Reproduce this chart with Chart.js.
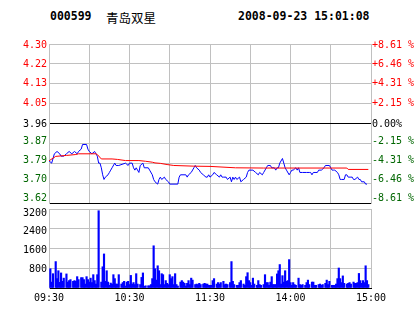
<!DOCTYPE html>
<html>
<head>
<meta charset="utf-8">
<script src="https://cdn.jsdelivr.net/npm/chart.js@4.4.1/dist/chart.umd.min.js"></script>
<style>
  html, body { margin: 0; padding: 0; background: #fff; }
  body { width: 414px; height: 314px; position: relative; overflow: hidden; }
  .hdr { position: absolute; top: 9px; font: bold 11.5px "DejaVu Sans Mono", monospace; color: #000; line-height: 14px; white-space: pre; }
  #stockName { font: 12.5px "Noto Sans CJK SC", sans-serif; top: 8px; }
  #priceWrap { position: absolute; left: 0; top: 0; width: 414px; height: 212px; }
  #volWrap { position: absolute; left: 0; top: 200px; width: 414px; height: 114px; }
</style>
</head>
<body>
<div class="hdr" id="stockCode" style="left:50px"></div>
<div class="hdr" id="stockName" style="left:106px"></div>
<div class="hdr" id="stamp" style="left:238px"></div>
<div id="priceWrap"><canvas id="priceChart" width="414" height="212"></canvas></div>
<div id="volWrap"><canvas id="volChart" width="414" height="114"></canvas></div>
<script>
const stockCode = "000599";
const stockName = "青岛双星";
const stampText = "2008-09-23 15:01:08";

const prevClose = 3.96;
const limitPct = 8.61;
const priceTickLabels = ["3.62", "3.70", "3.79", "3.87", "3.96", "4.05", "4.13", "4.22", "4.30"];
const pctTickLabels = ["-8.61 %", "-6.46 %", "-4.31 %", "-2.15 %", "0.00%", "+2.15 %", "+4.31 %", "+6.46 %", "+8.61 %"];
const volTickLabels = ["", "800", "1600", "2400", "3200"];
const timeTickMinutes = [0, 60, 120, 180, 240];
const timeTickText = ["09:30", "10:30", "11:30", "14:00", "15:00"];

// minutes of trading since 09:30 (lunch break removed)
const priceMinutes = [
  0, 2, 4, 6, 8, 9, 11, 13, 15, 17,
  19, 21, 22, 24, 25, 28, 29, 30, 32, 34,
  35, 36, 37, 38, 39, 40, 41, 42, 44, 45,
  46, 47, 49, 50, 52, 57, 59, 60, 62, 63,
  64, 65, 67, 68, 70, 71, 74, 75, 77, 78,
  79, 81, 82, 83, 84, 86, 87, 89, 90, 96,
  97, 98, 102, 103, 104, 106, 108, 109, 110, 112,
  113, 115, 117, 118, 119, 120, 122, 123, 125, 127,
  128, 129, 130, 132, 133, 135, 136, 137, 138, 139,
  140, 142, 143, 145, 147, 148, 149, 152, 154, 156,
  157, 159, 160, 162, 163, 165, 166, 168, 169, 170,
  171, 172, 174, 175, 176, 177, 179, 180, 181, 182,
  184, 185, 186, 187, 189, 192, 194, 195, 196, 197,
  199, 200, 201, 202, 203, 205, 206, 209, 210, 211,
  212, 213, 215, 216, 217, 218, 220, 221, 222, 223,
  225, 226, 227, 228, 230, 231, 232, 233, 235, 236, 237
];
const priceValues = [
  3.80, 3.79, 3.83, 3.84, 3.83, 3.82, 3.82, 3.83, 3.84, 3.83,
  3.84, 3.83, 3.84, 3.85, 3.87, 3.87, 3.85, 3.84, 3.83, 3.84,
  3.83, 3.82, 3.79, 3.79, 3.77, 3.74, 3.72, 3.73, 3.74, 3.75,
  3.76, 3.77, 3.79, 3.78, 3.78, 3.79, 3.78, 3.79, 3.79, 3.77,
  3.76, 3.77, 3.75, 3.78, 3.79, 3.77, 3.77, 3.76, 3.74, 3.72,
  3.71, 3.70, 3.72, 3.73, 3.72, 3.73, 3.72, 3.71, 3.70, 3.70,
  3.73, 3.74, 3.74, 3.73, 3.74, 3.75, 3.77, 3.78, 3.77, 3.76,
  3.75, 3.74, 3.73, 3.73, 3.74, 3.73, 3.74, 3.75, 3.74, 3.73,
  3.74, 3.73, 3.73, 3.73, 3.72, 3.73, 3.71, 3.73, 3.72, 3.73,
  3.72, 3.73, 3.71, 3.72, 3.73, 3.75, 3.76, 3.76, 3.75, 3.74,
  3.75, 3.74, 3.75, 3.77, 3.78, 3.78, 3.77, 3.77, 3.76, 3.77,
  3.77, 3.79, 3.81, 3.79, 3.77, 3.76, 3.74, 3.75, 3.76, 3.76,
  3.77, 3.76, 3.77, 3.75, 3.75, 3.75, 3.75, 3.75, 3.74, 3.75,
  3.75, 3.75, 3.76, 3.76, 3.76, 3.77, 3.78, 3.78, 3.77, 3.76,
  3.76, 3.76, 3.75, 3.74, 3.72, 3.72, 3.72, 3.74, 3.74, 3.73,
  3.73, 3.73, 3.72, 3.72, 3.73, 3.72, 3.72, 3.71, 3.71, 3.70, 3.70
];

const avgMinutes = [0, 5, 13, 20, 22, 35, 36, 39, 47, 51, 57, 67, 72, 77, 79, 83, 88, 93, 108, 120, 139, 160, 222, 223, 238];
const avgValues = [3.800, 3.819, 3.823, 3.827, 3.830, 3.830, 3.827, 3.808, 3.808, 3.806, 3.801, 3.801, 3.798,
  3.794, 3.791, 3.789, 3.784, 3.780, 3.777, 3.776, 3.770, 3.769, 3.769, 3.763, 3.763];

const volMinutes = [
  1, 2, 3, 5, 6, 7, 8, 9, 10, 11,
  13, 14, 15, 16, 18, 19, 20, 21, 22, 24,
  25, 26, 27, 28, 29, 30, 31, 32, 33, 34,
  35, 36, 37, 39, 40, 41, 42, 43, 44, 45,
  46, 47, 48, 49, 50, 51, 52, 54, 55, 56,
  57, 58, 59, 60, 61, 62, 63, 64, 65, 66,
  68, 69, 70, 71, 72, 74, 75, 76, 77, 78,
  79, 80, 81, 82, 83, 84, 85, 86, 87, 88,
  89, 90, 91, 92, 93, 94, 95, 96, 98, 99,
  100, 101, 102, 103, 104, 105, 106, 107, 109, 110,
  111, 112, 113, 115, 116, 117, 118, 119, 120, 121,
  122, 123, 125, 126, 127, 128, 130, 131, 132, 133,
  135, 136, 137, 138, 140, 141, 142, 143, 145, 146,
  147, 148, 149, 150, 151, 152, 153, 155, 156, 157,
  158, 160, 161, 162, 163, 164, 165, 166, 167, 168,
  169, 170, 171, 172, 173, 174, 175, 176, 177, 178,
  179, 180, 181, 182, 183, 184, 186, 187, 188, 189,
  191, 192, 193, 194, 196, 197, 198, 199, 201, 202,
  203, 204, 206, 207, 208, 209, 211, 212, 213, 214,
  215, 216, 217, 218, 219, 220, 222, 223, 224, 225,
  227, 228, 229, 230, 231, 232, 233, 234, 235, 236,
  237, 238
];
const volValues = [
  780, 240, 580, 1070, 380, 700, 230, 610, 270, 400,
  570, 240, 300, 340, 270, 300, 270, 460, 340, 420,
  420, 340, 160, 460, 340, 240, 400, 220, 540, 300,
  160, 540, 3130, 240, 860, 1380, 270, 700, 240, 110,
  200, 160, 540, 380, 160, 160, 540, 160, 220, 270,
  80, 240, 270, 140, 510, 160, 220, 140, 580, 160,
  140, 430, 610, 70, 90, 90, 90, 140, 380, 1710,
  780, 320, 900, 700, 140, 580, 540, 140, 300, 190,
  140, 540, 380, 460, 140, 580, 140, 80, 240, 300,
  240, 190, 80, 190, 300, 140, 400, 320, 140, 160,
  140, 190, 140, 160, 190, 160, 160, 110, 110, 110,
  300, 380, 160, 220, 160, 220, 270, 140, 160, 140,
  220, 1070, 270, 140, 110, 110, 220, 300, 160, 110,
  460, 620, 300, 220, 110, 400, 160, 110, 300, 140,
  110, 140, 540, 220, 220, 110, 240, 460, 140, 140,
  140, 570, 700, 950, 160, 500, 240, 700, 270, 300,
  1150, 220, 110, 220, 140, 110, 400, 140, 110, 140,
  110, 220, 320, 140, 240, 240, 110, 110, 140, 160,
  110, 140, 190, 320, 140, 270, 110, 110, 110, 160,
  380, 810, 380, 220, 490, 190, 160, 190, 220, 160,
  240, 190, 190, 220, 590, 300, 190, 300, 220, 900,
  300, 140
];

document.getElementById("stockCode").textContent = stockCode;
document.getElementById("stockName").textContent = stockName;
document.getElementById("stamp").textContent = stampText;

const RED = "#ff0000";
const GREEN = "#006600";
const BLUE = "#0000ff";
const GRID = "#c0c0c0";
const axisFont = { family: "DejaVu Sans Mono", size: 10 };

const priceLo = prevClose * (1 - limitPct / 100);
const priceHi = prevClose * (1 + limitPct / 100);
const pricePlotPx = 159;
const volPlotPx = 79;
// label drift (px, + = down) the old terminal applied to its axis text
const priceLabelNudge = [-5, -4, -3, -2, 0.5, 0, 0, 0.5, 1];
const volLabelNudge = [0, 1, 2, 3, 4];

const evenTicks = (lo, hi, n) => (scale) => {
  scale.ticks = Array.from({ length: n + 1 }, (_, i) => ({ value: lo + ((hi - lo) * i) / n }));
};
const nudgedTicks = (lo, hi, n, px, nudge) => (scale) => {
  const perPx = (hi - lo) / px;
  scale.ticks = Array.from({ length: n + 1 }, (_, i) => ({
    value: lo + ((hi - lo) * i) / n - nudge[i] * perPx,
  }));
};
const levelColor = (i) => (i < 4 ? GREEN : i === 4 ? "#000" : RED);
const toPoints = (xs, ys) => xs.map((x, i) => ({ x: x, y: ys[i] }));

new Chart(document.getElementById("priceChart"), {
  type: "line",
  data: {
    datasets: [
      {
        data: toPoints(avgMinutes, avgValues),
        borderColor: RED,
        borderWidth: 1,
        pointRadius: 0,
        tension: 0,
      },
      {
        data: toPoints(priceMinutes, priceValues),
        borderColor: BLUE,
        borderWidth: 1,
        pointRadius: 0,
        tension: 0,
      },
    ],
  },
  options: {
    responsive: false,
    animation: false,
    layout: { padding: { top: 44, left: 0, right: 0, bottom: 0 } },
    plugins: { legend: { display: false }, tooltip: { enabled: false } },
    scales: {
      x: {
        type: "linear",
        min: 0,
        max: 240,
        afterBuildTicks: evenTicks(0, 240, 8),
        afterFit(scale) {
          scale.height = 9;
        },
        ticks: { display: false },
        grid: { color: GRID, drawTicks: false },
        border: { color: "#000" },
      },
      y: {
        position: "left",
        min: priceLo,
        max: priceHi,
        afterBuildTicks: evenTicks(priceLo, priceHi, 8),
        afterFit(scale) {
          scale.width = 0;
        },
        ticks: { display: false },
        grid: {
          drawTicks: false,
          color: (c) => (c.index === 0 || c.index === 4 ? "#000" : GRID),
        },
        border: { color: GRID },
      },
      yLbl: {
        position: "left",
        min: priceLo,
        max: priceHi,
        afterBuildTicks: nudgedTicks(priceLo, priceHi, 8, pricePlotPx, priceLabelNudge),
        afterFit(scale) {
          scale.width = 49;
        },
        ticks: {
          padding: 2,
          font: axisFont,
          color: (c) => levelColor(c.index),
          callback: (v, i) => priceTickLabels[i],
        },
        grid: { display: false, drawTicks: false },
        border: { display: false },
      },
      yPct: {
        position: "right",
        min: priceLo,
        max: priceHi,
        afterBuildTicks: nudgedTicks(priceLo, priceHi, 8, pricePlotPx, priceLabelNudge),
        afterFit(scale) {
          scale.width = 43;
        },
        ticks: {
          padding: 1,
          font: axisFont,
          color: (c) => levelColor(c.index),
          callback: (v, i) => pctTickLabels[i],
        },
        grid: { display: false, drawTicks: false },
        border: { color: GRID },
      },
    },
  },
});

new Chart(document.getElementById("volChart"), {
  type: "bar",
  data: {
    datasets: [
      {
        data: toPoints(volMinutes, volValues),
        backgroundColor: BLUE,
        barThickness: 1.5,
      },
    ],
  },
  options: {
    responsive: false,
    animation: false,
    layout: { padding: { top: 9, left: 0, right: 43, bottom: 0 } },
    plugins: { legend: { display: false }, tooltip: { enabled: false } },
    scales: {
      x: {
        type: "linear",
        min: 0,
        max: 240,
        offset: false,
        afterBuildTicks: evenTicks(0, 240, 8),
        afterFit(scale) {
          scale.height = 26;
        },
        ticks: {
          autoSkip: false,
          maxRotation: 0,
          padding: 4,
          font: axisFont,
          color: "#000",
          callback: (v) => {
            const k = timeTickMinutes.indexOf(Math.round(v));
            return k >= 0 ? timeTickText[k] : "";
          },
        },
        grid: { color: GRID, drawTicks: false, offset: false },
        border: { color: "#000" },
      },
      y: {
        min: 0,
        max: 3200,
        afterBuildTicks: evenTicks(0, 3200, 4),
        afterFit(scale) {
          scale.width = 0;
        },
        ticks: { display: false },
        grid: { color: GRID, drawTicks: false },
        border: { color: GRID },
      },
      yLbl: {
        position: "left",
        min: 0,
        max: 3200,
        afterBuildTicks: nudgedTicks(0, 3200, 4, volPlotPx, volLabelNudge),
        afterFit(scale) {
          scale.width = 49;
        },
        ticks: {
          padding: 2,
          font: axisFont,
          color: "#000",
          callback: (v, i) => volTickLabels[i],
        },
        grid: { display: false, drawTicks: false },
        border: { display: false },
      },
    },
  },
});
</script>
</body>
</html>
